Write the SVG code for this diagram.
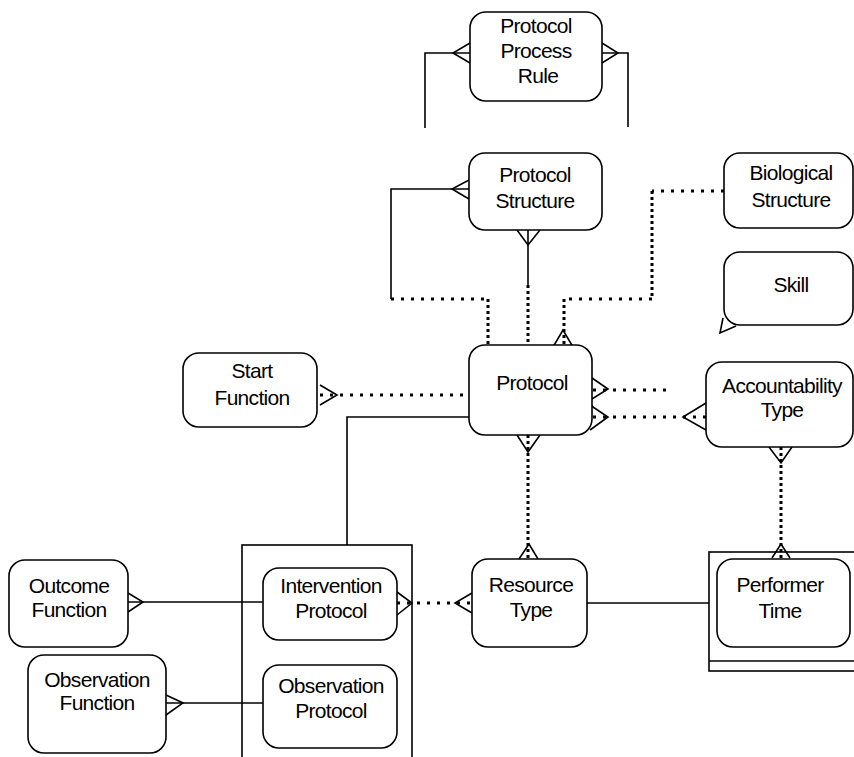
<svg xmlns="http://www.w3.org/2000/svg" width="854" height="757" viewBox="0 0 854 757">
<style>
.box{fill:#fff;stroke:#000;stroke-width:1.6}
.plain{fill:none;stroke:#000;stroke-width:1.6}
.t{font-family:"Liberation Sans",Arial,sans-serif;font-size:21px;fill:#000;text-anchor:middle;letter-spacing:-0.7px}
.s{fill:none;stroke:#000;stroke-width:1.6}
.dh{fill:none;stroke:#000;stroke-width:3;stroke-dasharray:3 7}
.dv{fill:none;stroke:#000;stroke-width:3;stroke-dasharray:3 3}
.cf{fill:none;stroke:#000;stroke-width:1.6;stroke-linejoin:miter}
</style>
<rect width="854" height="757" fill="#fff"/>
<g id="containers">
<rect class="plain" x="242" y="545" width="170" height="230"/>
<rect class="plain" x="709" y="552" width="160" height="119"/>
<line class="plain" x1="709" y1="661" x2="854" y2="661"/>
</g>
<g id="connectors">
<polyline class="s" points="425,128 425,53 470,53"/>
<polyline class="cf" points="470,43 453,53 470,63"/>
<polyline class="s" points="628,127 628,53 602,53"/>
<polyline class="cf" points="602,43 618,53 602,63"/>
<polyline class="s" points="469,189 391,189 391,299"/>
<polyline class="dh" points="391,299 488,299"/>
<polyline class="dv" points="488,299 488,345"/>
<polyline class="cf" points="469,180 452,189 469,199"/>
<polyline class="s" points="528,230 528,285"/>
<polyline class="dv" points="528,285 528,345"/>
<polyline class="cf" points="517,230 528,245 540,230"/>
<polyline class="dh" points="724,191 652,191"/>
<polyline class="dv" points="652,191 652,299"/>
<polyline class="dh" points="652,299 564,299"/>
<polyline class="dv" points="564,299 564,345"/>
<polyline class="cf" points="553,347 563,330 573,347"/>
<polyline class="cf" points="723,318 720,333 736,326"/>
<polyline class="dh" points="320,395 469,395"/>
<polyline class="cf" points="320,385 337,395 320,405"/>
<polyline class="s" points="469,417 347,417 347,545"/>
<polyline class="dh" points="593,390 672,390"/>
<polyline class="cf" points="592,378 608,389 592,399"/>
<polyline class="dh" points="593,417 706,417"/>
<polyline class="cf" points="590,405 608,417 590,430"/>
<polyline class="cf" points="706,403 683,417 706,430"/>
<polyline class="dv" points="781,447 781,559"/>
<polyline class="cf" points="769,447 781,463 792,447"/>
<polyline class="cf" points="772,558 781,544 790,558"/>
<polyline class="dv" points="528,435 528,559"/>
<polyline class="cf" points="517,435 528,452 540,435"/>
<polyline class="cf" points="519,559 529,544 538,559"/>
<polyline class="dh" points="397,603 472,603"/>
<polyline class="cf" points="397,592 412,603 397,615"/>
<polyline class="cf" points="472,593 455,603 472,613"/>
<line class="s" x1="587" y1="603" x2="709" y2="603"/>
<line class="s" x1="128" y1="602" x2="263" y2="602"/>
<polyline class="cf" points="128,593 143,602 128,612"/>
<line class="s" x1="166" y1="703" x2="263" y2="703"/>
<polyline class="cf" points="166,695 183,703 166,715"/>
</g>
<g id="protocol-process-rule"><rect class="box" x="470" y="12" width="132" height="89" rx="16"/><text class="t" x="536" y="33">Protocol</text><text class="t" x="536" y="58">Process</text><text class="t" x="538" y="83">Rule</text></g>
<g id="protocol-structure"><rect class="box" x="469" y="153" width="133" height="77" rx="16"/><text class="t" x="535" y="182">Protocol</text><text class="t" x="535" y="208">Structure</text></g>
<g id="biological-structure"><rect class="box" x="724" y="153" width="129" height="75" rx="16"/><text class="t" x="791" y="180">Biological</text><text class="t" x="791" y="207">Structure</text></g>
<g id="skill"><rect class="box" x="724" y="252" width="129" height="73" rx="16"/><text class="t" x="791" y="292">Skill</text></g>
<g id="start-function"><rect class="box" x="183" y="353" width="134" height="74" rx="16"/><text class="t" x="252" y="378">Start</text><text class="t" x="252" y="405">Function</text></g>
<g id="protocol"><rect class="box" x="469" y="345" width="123" height="90" rx="16"/><text class="t" x="532" y="390">Protocol</text></g>
<g id="accountability-type"><rect class="box" x="706" y="362" width="147" height="85" rx="16"/><text class="t" x="782" y="393">Accountability</text><text class="t" x="782" y="417">Type</text></g>
<g id="resource-type"><rect class="box" x="472" y="559" width="115" height="88" rx="16"/><text class="t" x="531" y="592">Resource</text><text class="t" x="531" y="617">Type</text></g>
<g id="performer-time"><rect class="box" x="717" y="559" width="133" height="88" rx="16"/><text class="t" x="780" y="592">Performer</text><text class="t" x="780" y="618">Time</text></g>
<g id="intervention-protocol"><rect class="box" x="263" y="568" width="134" height="72" rx="16"/><text class="t" x="331" y="593">Intervention</text><text class="t" x="331" y="618">Protocol</text></g>
<g id="observation-protocol"><rect class="box" x="263" y="665" width="134" height="83" rx="16"/><text class="t" x="331" y="693">Observation</text><text class="t" x="331" y="718">Protocol</text></g>
<g id="outcome-function"><rect class="box" x="9" y="560" width="119" height="87" rx="16"/><text class="t" x="69" y="593">Outcome</text><text class="t" x="69" y="617">Function</text></g>
<g id="observation-function"><rect class="box" x="28" y="655" width="138" height="98" rx="16"/><text class="t" x="97" y="687">Observation</text><text class="t" x="97" y="710">Function</text></g>
</svg>
